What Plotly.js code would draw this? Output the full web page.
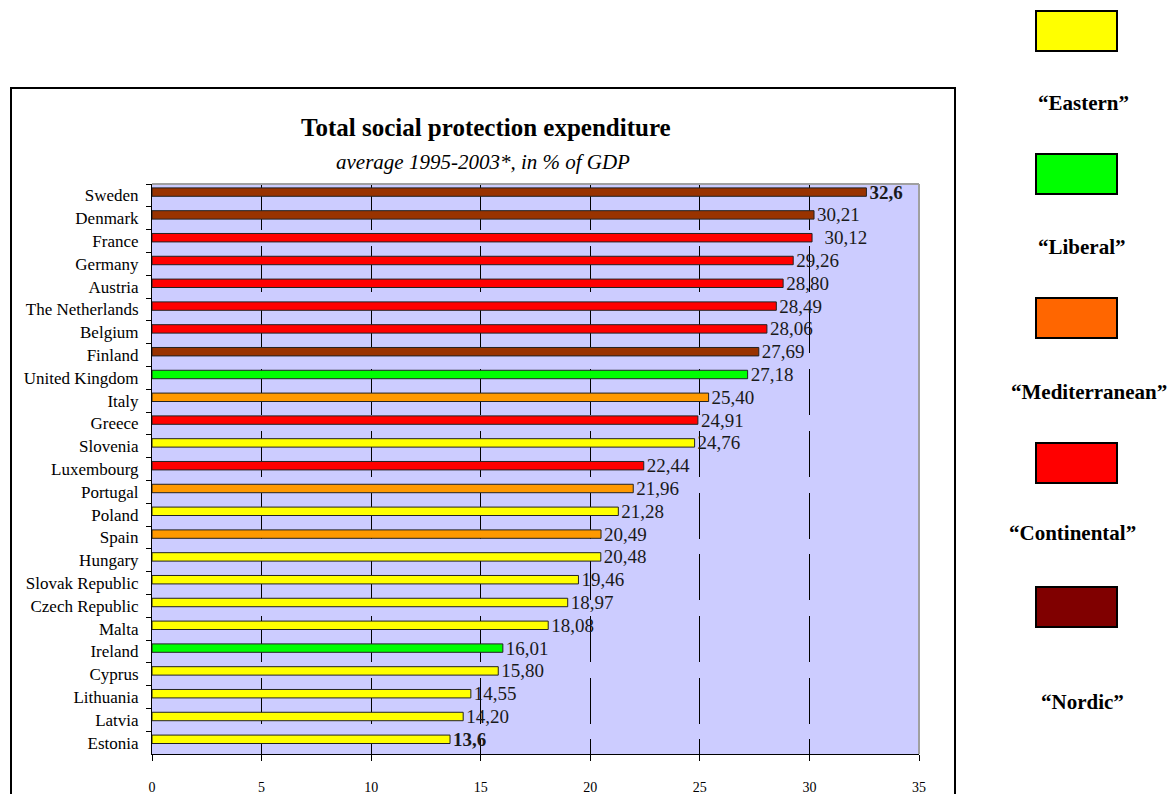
<!DOCTYPE html>
<html><head><meta charset="utf-8">
<script src="https://cdn.plot.ly/plotly-3.0.1.min.js"></script>
<style>html,body{margin:0;padding:0;background:#fff;}#chart{width:1169px;height:794px;}</style>
</head><body><div id="chart"></div>
<script>
// ---- data ----
const countries = ["Sweden","Denmark","France","Germany","Austria","The Netherlands","Belgium","Finland",
  "United Kingdom","Italy","Greece","Slovenia","Luxembourg","Portugal","Poland","Spain","Hungary",
  "Slovak Republic","Czech Republic","Malta","Ireland","Cyprus","Lithuania","Latvia","Estonia"];
const values = [32.6,30.21,30.12,29.26,28.80,28.49,28.06,27.69,27.18,25.40,24.91,24.76,22.44,21.96,21.28,
  20.49,20.48,19.46,18.97,18.08,16.01,15.80,14.55,14.20,13.6];
const valueLabels = ["<b>32,6</b>","30,21","\u00a0\u00a030,12","29,26","28,80","28,49","28,06","27,69","27,18",
  "25,40","24,91","24,76","22,44","21,96","21,28","20,49","20,48","19,46","18,97","18,08","16,01","15,80",
  "14,55","14,20","<b>13,6</b>"];
const regimes = ["Nordic","Nordic","Continental","Continental","Continental","Continental","Continental","Nordic",
  "Liberal","Mediterranean","Continental","Eastern","Continental","Mediterranean","Eastern","Mediterranean",
  "Eastern","Eastern","Eastern","Eastern","Liberal","Eastern","Eastern","Eastern","Eastern"];
const regimeNames = ["Eastern","Liberal","Mediterranean","Continental","Nordic"];
const barColors = {Eastern:"#FFFF00", Liberal:"#00FF00", Mediterranean:"#FF9900", Continental:"#FF0000", Nordic:"#993300"};
const legendColors = {Eastern:"#FFFF00", Liberal:"#00FF00", Mediterranean:"#FF6600", Continental:"#FF0000", Nordic:"#800000"};
const xTicks = [0,5,10,15,20,25,30,35];
const titleText = "Total social protection expenditure";
const subtitleText = "average 1995-2003*, in % of GDP";

// ---- layout helpers ----
const W = 1169, H = 794;
const M = {l:152, r:250, t:184, b:40};
const PW = W - M.l - M.r, PH = H - M.t - M.b;
const px = x => (x - M.l) / PW;
const py = y => (H - M.b - y) / PH;
const FONT = "Liberation Serif, Times New Roman, serif";

const trace = {
  type: "bar", orientation: "h",
  y: countries, x: values,
  text: valueLabels, textposition: "outside", cliponaxis: false, constraintext: "none",
  textfont: {family: FONT, size: 19, color: "#1a1a1a"},
  width: 0.37, offset: -0.33,
  marker: {color: regimes.map(r => barColors[r]), line: {color: "#222", width: 1}},
  hoverinfo: "y+x"
};

const shapes = [
  {type:"rect", xref:"paper", yref:"paper", x0:px(11), x1:px(955), y0:py(88), y1:py(810),
   line:{color:"#000", width:2}, fillcolor:"rgba(0,0,0,0)", layer:"below"},
  {type:"line", xref:"paper", yref:"paper", x0:0, x1:1, y0:1, y1:1, line:{color:"#A0A0A0", width:2}},
  {type:"line", xref:"paper", yref:"paper", x0:1, x1:1, y0:0, y1:1, line:{color:"#A0A0A0", width:2}}
];
const annotations = [
  {xref:"paper", yref:"paper", x:px(486), y:py(128), text:"<b>"+titleText+"</b>", showarrow:false,
   font:{family:FONT, size:25, color:"#000"}, xanchor:"center", yanchor:"middle"},
  {xref:"paper", yref:"paper", x:px(483), y:py(162), text:"<i>"+subtitleText+"</i>", showarrow:false,
   font:{family:FONT, size:21, color:"#000"}, xanchor:"center", yanchor:"middle"}
];
const boxTops = [11, 154, 298, 443, 587];
const textYs = [103, 247, 392, 533, 702];
const textXs = [1083, 1082, 1089, 1072, 1082];
regimeNames.forEach((r, i) => {
  shapes.push({type:"rect", xref:"paper", yref:"paper", x0:px(1036), x1:px(1117),
    y0:py(boxTops[i]), y1:py(boxTops[i] + 40), fillcolor:legendColors[r], line:{color:"#000", width:2}});
  annotations.push({xref:"paper", yref:"paper", x:px(textXs[i]), y:py(textYs[i]), text:"<b>\u201c"+r+"\u201d</b>",
    showarrow:false, font:{family:FONT, size:21, color:"#000"}, xanchor:"center", yanchor:"middle"});
});

const layout = {
  width: W, height: H, margin: M, showlegend: false,
  paper_bgcolor: "#fff", plot_bgcolor: "#CCCCFF",
  font: {family: FONT, color: "#000"},
  xaxis: {range:[0,35], tickvals:xTicks, ticktext:xTicks.map(String), ticks:"outside", ticklen:6,
    tickcolor:"#000", showline:true, linecolor:"#000", linewidth:1, zeroline:false,
    showgrid:true, gridcolor:"#000", gridwidth:1, griddash:"46px,15.7px",
    tickfont:{family:FONT, size:14, color:"#000"}, ticklabelstandoff:14, fixedrange:true},
  yaxis: {type:"category", autorange:"reversed", tickson:"boundaries", ticks:"outside", ticklen:5,
    tickcolor:"#000", showline:true, linecolor:"#000", linewidth:1, showgrid:false, zeroline:false,
    tickfont:{family:FONT, size:17, color:"#000"}, ticklabelstandoff:9, fixedrange:true},
  shapes: shapes, annotations: annotations
};
Plotly.newPlot("chart", [trace], layout, {displayModeBar:false, staticPlot:true});
</script>
</body></html>
